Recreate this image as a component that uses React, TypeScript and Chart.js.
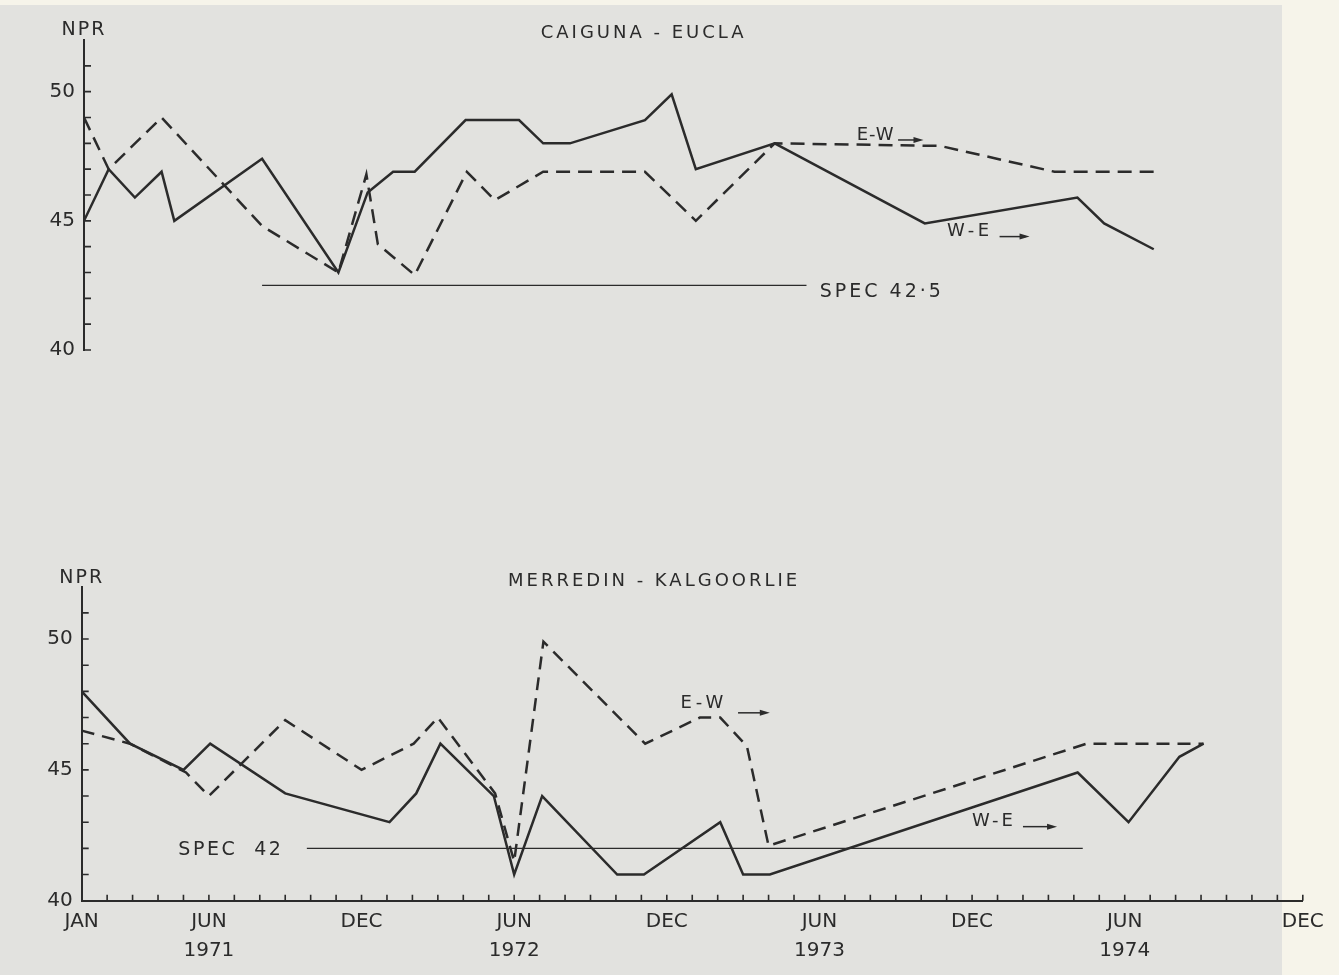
import { useEffect, useRef } from 'react';
import { Chart, registerables } from 'chart.js';

Chart.register(...registerables);

// ---------- data (x = months after JAN 1971, y = NPR) ----------
const monthTickIndex = [0, 5, 11, 17, 23, 29, 35, 41, 48];
const monthTickLabels = [['JAN'], ['JUN', '1971'], ['DEC'], ['JUN', '1972'], ['DEC'], ['JUN', '1973'], ['DEC'], ['JUN', '1974'], ['DEC']];
const nprTickValues = [40, 45, 50];

// CAIGUNA - EUCLA
const caigunaWEMonth = [0, 0.97, 2.0, 3.05, 3.55, 7.0, 10.0, 11.15, 12.15, 13.0, 15.0, 17.1, 18.05, 19.1, 22.05, 23.1, 24.05, 27.15, 33.05, 39.05, 40.1, 42.05];
const caigunaWENpr = [45, 47, 45.9, 46.9, 45, 47.4, 43, 46.1, 46.9, 46.9, 48.9, 48.9, 48, 48, 48.9, 49.9, 47, 48, 44.9, 45.9, 44.9, 43.9];
const caigunaEWMonth = [0, 0.97, 3.05, 7.0, 10.0, 11.1, 11.55, 13.0, 15.05, 16.15, 18.05, 22.05, 24.05, 27.15, 33.65, 38.15, 42.35];
const caigunaEWNpr = [49, 47, 49, 44.8, 43, 46.8, 44.1, 42.9, 46.9, 45.8, 46.9, 46.9, 45, 48, 47.9, 46.9, 46.9];
const caigunaSpecMonth = [7.0, 28.4];
const caigunaSpecNpr = [42.5, 42.5];

// MERREDIN - KALGOORLIE
const merredinWEMonth = [0, 1.9, 4.0, 5.05, 8.0, 12.1, 13.15, 14.1, 16.2, 17.0, 18.1, 21.05, 22.1, 25.1, 26.0, 27.05, 39.15, 41.15, 43.15, 44.1];
const merredinWENpr = [48, 46, 45, 46, 44.1, 43, 44.1, 46, 44, 41, 44, 41, 41, 43, 41, 41, 44.9, 43, 45.5, 46];
const merredinEWMonth = [0, 1.9, 4.1, 5.0, 8.0, 11.0, 13.05, 14.0, 16.25, 17.0, 18.15, 22.15, 24.3, 25.1, 26.15, 27.0, 39.5, 44.1];
const merredinEWNpr = [46.5, 46, 44.9, 44, 46.9, 45, 46, 47, 44.1, 41.5, 49.9, 46, 47, 47, 45.9, 42.1, 46, 46];
const merredinSpecMonth = [8.85, 39.35];
const merredinSpecNpr = [42, 42];

// ---------- styling ----------
const INK = '#2b2b2b';
const FONT = '"DejaVu Sans", "Liberation Sans", sans-serif';

const pts = (xs: number[], ys: number[]) => xs.map((x, i) => ({ x, y: ys[i] }));

const innerTicks = {
  id: 'innerTicks',
  afterDraw(chart: any, _a: any, o: any) {
    const { ctx, chartArea: ca, scales } = chart;
    ctx.save();
    ctx.strokeStyle = INK;
    ctx.lineWidth = 1.6;
    ctx.beginPath();
    for (let v = o.yMin; v <= o.yMax; v++) {
      const py = scales.y.getPixelForValue(v);
      ctx.moveTo(ca.left, py);
      ctx.lineTo(ca.left + o.len, py);
    }
    if (o.xMax) {
      for (let m = 1; m <= o.xMax; m++) {
        const px = scales.x.getPixelForValue(m);
        ctx.moveTo(px, ca.bottom);
        ctx.lineTo(px, ca.bottom - o.len + 1);
      }
    }
    ctx.stroke();
    ctx.restore();
  },
};

const annotate = {
  id: 'annotate',
  afterDraw(chart: any, _a: any, o: any) {
    const { ctx } = chart;
    const x = chart.scales.x;
    const y = chart.scales.y;
    ctx.save();
    ctx.fillStyle = INK;
    ctx.strokeStyle = INK;
    ctx.textBaseline = 'middle';
    for (const t of o.texts) {
      ctx.font = `${t.size}px ${FONT}`;
      (ctx as any).letterSpacing = `${t.spacing}px`;
      ctx.textAlign = t.align;
      ctx.fillText(t.text, x.getPixelForValue(t.x), y.getPixelForValue(t.y));
    }
    (ctx as any).letterSpacing = '0px';
    for (const a of o.arrows) {
      const x1 = x.getPixelForValue(a.x1);
      const x2 = x.getPixelForValue(a.x2);
      const py = y.getPixelForValue(a.y);
      ctx.lineWidth = 1.5;
      ctx.beginPath();
      ctx.moveTo(x1, py);
      ctx.lineTo(x2 - 4, py);
      ctx.stroke();
      ctx.beginPath();
      ctx.moveTo(x2, py);
      ctx.lineTo(x2 - 10, py - 3);
      ctx.lineTo(x2 - 10, py + 3);
      ctx.closePath();
      ctx.fill();
    }
    ctx.restore();
  },
};

function lineSet(label: string, xs: number[], ys: number[], width: number, dash: number[] = []) {
  return {
    label,
    data: pts(xs, ys),
    borderColor: INK,
    backgroundColor: INK,
    borderWidth: width,
    borderDash: dash,
    pointRadius: 0,
    tension: 0,
    fill: false,
  };
}

function yScale(width: number, pad: number) {
  return {
    type: 'linear',
    min: 40,
    max: 52,
    afterFit: (s: any) => {
      s.width = width;
    },
    afterBuildTicks: (s: any) => {
      s.ticks = nprTickValues.map((v) => ({ value: v }));
    },
    grid: { display: false, drawTicks: false },
    border: { display: true, color: INK, width: 2 },
    ticks: { color: INK, font: { family: FONT, size: 20 }, padding: pad, autoSkip: false },
  };
}

function topConfig(): any {
  return {
    type: 'line',
    data: {
      datasets: [
        lineSet('W-E', caigunaWEMonth, caigunaWENpr, 2.5),
        lineSet('E-W', caigunaEWMonth, caigunaEWNpr, 2.5, [14, 8]),
        lineSet('SPEC 42·5', caigunaSpecMonth, caigunaSpecNpr, 1.4),
      ],
    },
    options: {
      animation: false,
      responsive: false,
      devicePixelRatio: 1,
      layout: { padding: { top: 40, right: 33.9, bottom: 70, left: 0 } },
      plugins: {
        legend: { display: false },
        tooltip: { enabled: false },
        innerTicks: { yMin: 40, yMax: 51, len: 7, xMax: 0 },
        annotate: {
          texts: [
            { text: 'NPR', x: 0, y: 52.4, size: 19, spacing: 2, align: 'center' },
            { text: 'CAIGUNA - EUCLA', x: 22.0, y: 52.27, size: 18, spacing: 3, align: 'center' },
            { text: 'E-W', x: 31.12, y: 48.32, size: 18, spacing: 1, align: 'center' },
            { text: 'W-E', x: 34.82, y: 44.58, size: 18, spacing: 3.5, align: 'center' },
            { text: 'SPEC 42·5', x: 28.92, y: 42.25, size: 19, spacing: 3, align: 'left' },
          ],
          arrows: [
            { x1: 32.0, x2: 33.0, y: 48.13 },
            { x1: 35.99, x2: 37.17, y: 44.39 },
          ],
        },
      },
      scales: {
        x: { type: 'linear', min: 0, max: 48, display: false },
        y: yScale(84, 9),
      },
    },
    plugins: [innerTicks, annotate],
  };
}

function bottomConfig(): any {
  return {
    type: 'line',
    data: {
      datasets: [
        lineSet('W-E', merredinWEMonth, merredinWENpr, 2.5),
        lineSet('E-W', merredinEWMonth, merredinEWNpr, 2.5, [13, 8]),
        lineSet('SPEC 42', merredinSpecMonth, merredinSpecNpr, 1.4),
      ],
    },
    options: {
      animation: false,
      responsive: false,
      devicePixelRatio: 1,
      layout: { padding: { top: 166.7, right: 36.2, bottom: 0, left: 0 } },
      plugins: {
        legend: { display: false },
        tooltip: { enabled: false },
        innerTicks: { yMin: 40, yMax: 51, len: 7, xMax: 48 },
        annotate: {
          texts: [
            { text: 'NPR', x: 0, y: 52.33, size: 19, spacing: 2, align: 'center' },
            { text: 'MERREDIN - KALGOORLIE', x: 22.5, y: 52.19, size: 18, spacing: 3, align: 'center' },
            { text: 'E-W', x: 24.46, y: 47.54, size: 18, spacing: 4, align: 'center' },
            { text: 'W-E', x: 35.86, y: 43.02, size: 18, spacing: 3, align: 'center' },
            { text: 'SPEC  42', x: 3.8, y: 41.94, size: 19, spacing: 2.5, align: 'left' },
          ],
          arrows: [
            { x1: 25.8, x2: 27.05, y: 47.18 },
            { x1: 37.0, x2: 38.34, y: 42.83 },
          ],
        },
      },
      scales: {
        x: {
          type: 'linear',
          min: 0,
          max: 48,
          afterFit: (s: any) => {
            s.height = 74.3;
          },
          afterBuildTicks: (s: any) => {
            s.ticks = monthTickIndex.map((v) => ({ value: v }));
          },
          grid: { display: false, drawTicks: false },
          border: { display: true, color: INK, width: 2 },
          ticks: {
            color: INK,
            font: { family: FONT, size: 20, lineHeight: 1.48 },
            padding: 6,
            autoSkip: false,
            maxRotation: 0,
            minRotation: 0,
            callback: (v: number) => {
              const i = monthTickIndex.indexOf(v);
              return i >= 0 ? monthTickLabels[i] : '';
            },
          },
        },
        y: yScale(81.7, 9),
      },
    },
    plugins: [innerTicks, annotate],
  };
}

export default function App() {
  const topRef = useRef<HTMLCanvasElement>(null);
  const botRef = useRef<HTMLCanvasElement>(null);

  useEffect(() => {
    const c1 = new Chart(topRef.current as HTMLCanvasElement, topConfig());
    const c2 = new Chart(botRef.current as HTMLCanvasElement, bottomConfig());
    return () => {
      c1.destroy();
      c2.destroy();
    };
  }, []);

  return (
    <div
      style={{
        position: 'absolute',
        left: 0,
        top: 0,
        width: 1339,
        height: 975,
        background: '#f6f4ea',
        overflow: 'hidden',
      }}
    >
      <div style={{ position: 'absolute', left: 0, top: 5, width: 1282, height: 970, background: '#e2e2df' }} />
      <canvas ref={topRef} width={1339} height={420} style={{ position: 'absolute', left: 0, top: 0 }} />
      <canvas ref={botRef} width={1339} height={555} style={{ position: 'absolute', left: 0, top: 420 }} />
    </div>
  );
}
